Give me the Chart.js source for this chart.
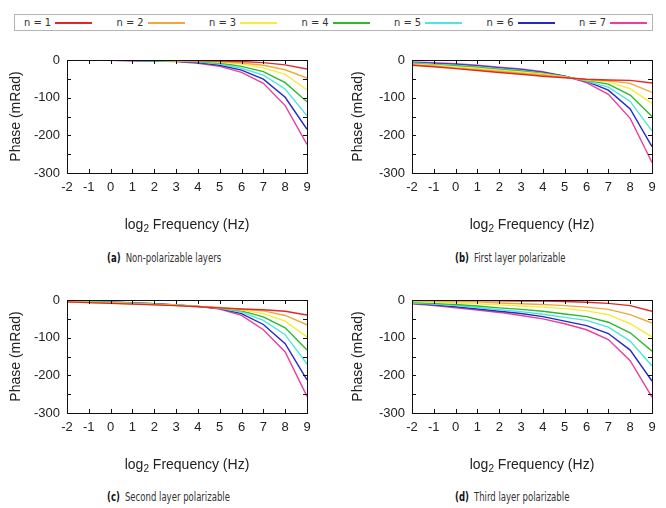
<!DOCTYPE html>
<html>
<head>
<meta charset="utf-8">
<script src="https://cdn.jsdelivr.net/npm/chart.js@4.4.0/dist/chart.umd.min.js"></script>
<style>
  body { margin: 0; background: #fff; width: 666px; height: 508px; position: relative; overflow: hidden; }
  canvas { position: absolute; }
  #legend { position: absolute; left: 14px; top: 14px; width: 637px; height: 15px; border: 1px solid #b4b4b4; }
  .item { position: absolute; top: 0; height: 15px; display: flex; align-items: center;
          font: 11px "Liberation Sans Narrow", "DejaVu Sans Condensed", sans-serif; color: #333; white-space: nowrap; }
  .swatch { width: 37px; height: 2px; margin-left: 4px; }
  .caption { position: absolute; font: 12px "Liberation Sans Narrow", "DejaVu Sans Condensed", sans-serif; color: #333;
             white-space: nowrap; transform: scaleX(0.79); transform-origin: left center; }
  .caption b { color: #111; margin-right: 3px; }
</style>
</head>
<body>
<div id="legend"></div>
<canvas id="chartA" width="333" height="200" style="left:0px;top:40px"></canvas>
<canvas id="chartB" width="324" height="200" style="left:342px;top:40px"></canvas>
<canvas id="chartC" width="333" height="200" style="left:0px;top:280px"></canvas>
<canvas id="chartD" width="324" height="200" style="left:342px;top:280px"></canvas>
<div class="caption" style="left:107px;top:251px"><b>(a)</b> Non-polarizable layers</div>
<div class="caption" style="left:455px;top:251px"><b>(b)</b> First layer polarizable</div>
<div class="caption" style="left:107px;top:490px"><b>(c)</b> Second layer polarizable</div>
<div class="caption" style="left:455px;top:490px"><b>(d)</b> Third layer polarizable</div>
<script>
// x values: log2 of frequency
const freqLog2 = [-2, -1, 0, 1, 2, 3, 4, 5, 6, 7, 8, 9];
const seriesNames = ['n = 1', 'n = 2', 'n = 3', 'n = 4', 'n = 5', 'n = 6', 'n = 7'];
const colors = ['#e02828', '#f0a83c', '#f2ee3a', '#2eb82e', '#4ee6dc', '#2428c4', '#e8409c'];
const yTicks = [0, -100, -200, -300];

// phase (mRad), one row per n
const phaseNonPolar = [
    [0, 0, 0, 0, -0.5, -1, -1.5, -2.5, -4, -7, -13, -24],
    [0, 0, 0, -0.5, -1, -1.5, -2.5, -4, -8, -14, -26, -48],
    [0, 0, -0.5, -0.5, -1, -2, -3, -6, -11, -21, -38, -79],
    [0, -0.5, -0.5, -1, -1.5, -2.5, -4, -8, -17, -31, -60, -111],
    [-0.5, -0.5, -1, -1, -2, -3, -5, -11, -22, -40, -77, -148],
    [-0.5, -0.5, -1, -1.5, -2, -3.5, -7, -14, -27, -51, -99, -184],
    [-0.5, -1, -1, -2, -2.5, -4, -9, -17, -33, -62, -121, -224]
];
const phaseFirst = [
    [-14, -18, -23, -28, -33, -38, -43, -47, -51, -53, -54, -61],
    [-13, -16, -21, -25, -30, -35, -40, -46, -52, -55, -62, -86],
    [-11, -14, -18, -22, -27, -32, -37, -45, -53, -58, -76, -115],
    [-10, -13, -16, -20, -25, -30, -36, -44, -54, -64, -93, -150],
    [-8, -11, -14, -18, -23, -28, -35, -44, -56, -72, -110, -188],
    [-7, -9, -12, -16, -21, -26, -33, -43, -57, -80, -130, -230],
    [-5, -7, -10, -14, -19, -24, -31, -43, -60, -91, -155, -272]
];
const phaseSecond = [
    [-5, -7, -9, -11, -13, -15, -18, -21, -24, -26, -30, -40],
    [-5, -7, -8, -10, -12, -15, -17, -20, -25, -29, -41, -66],
    [-4, -6, -8, -10, -12, -14, -17, -21, -27, -36, -56, -98],
    [-4, -5, -7, -9, -11, -14, -17, -21, -29, -45, -74, -133],
    [-3, -4, -6, -8, -11, -13, -17, -22, -32, -54, -92, -170],
    [-2, -4, -6, -8, -10, -13, -17, -23, -36, -65, -116, -212],
    [-2, -3, -5, -7, -10, -13, -17, -24, -41, -79, -138, -256]
];
const phaseThird = [
    [0, -0.5, -1, -1.5, -2, -2.5, -3, -4, -6, -9, -15, -30],
    [-2, -3, -4, -5, -8, -10, -12, -15, -19, -25, -39, -61],
    [-4, -6, -8, -10, -13, -16, -19, -23, -29, -39, -63, -98],
    [-6, -9, -12, -16, -21, -25, -30, -37, -44, -59, -87, -136],
    [-8, -11, -15, -20, -26, -31, -38, -46, -54, -72, -109, -175],
    [-9, -13, -18, -24, -30, -36, -44, -56, -68, -89, -133, -215],
    [-10, -15, -21, -27, -33, -41, -50, -63, -79, -105, -161, -258]
];

// legend
const legend = document.getElementById('legend');
seriesNames.forEach((name, i) => {
    const item = document.createElement('div');
    item.className = 'item';
    item.style.left = (9 + i * 92.5) + 'px';
    item.innerHTML = '<span>' + name + '</span><span class="swatch" style="background:' + colors[i] + '"></span>';
    legend.appendChild(item);
});

const textColor = '#222';

// gnuplot-like frame: box, inward ticks on all sides, subscripted x title
const framePlugin = {
    id: 'frame',
    afterDraw(chart) {
        const { ctx, chartArea: a, scales: { x, y } } = chart;
        ctx.save();
        ctx.strokeStyle = '#111';
        ctx.lineWidth = 1;
        ctx.beginPath();
        x.ticks.forEach(t => {
            const px = Math.round(x.getPixelForValue(t.value)) + 0.5;
            ctx.moveTo(px, a.bottom); ctx.lineTo(px, a.bottom - 4);
            ctx.moveTo(px, a.top); ctx.lineTo(px, a.top + 4);
        });
        y.ticks.forEach(t => {
            const py = Math.round(y.getPixelForValue(t.value)) + 0.5;
            ctx.moveTo(a.left, py); ctx.lineTo(a.left + 4, py);
            ctx.moveTo(a.right, py); ctx.lineTo(a.right - 4, py);
        });
        ctx.stroke();
        ctx.strokeRect(Math.round(a.left) + 0.5, Math.round(a.top) + 0.5,
            Math.round(a.right - a.left), Math.round(a.bottom - a.top));

        // x title: log2 Frequency (Hz)
        const big = '14px "Liberation Sans", Arial, sans-serif';
        const small = '10px "Liberation Sans", Arial, sans-serif';
        ctx.fillStyle = textColor;
        ctx.textBaseline = 'alphabetic';
        ctx.textAlign = 'left';
        ctx.font = big;
        const w1 = ctx.measureText('log').width;
        const w3 = ctx.measureText(' Frequency (Hz)').width;
        ctx.font = small;
        const w2 = ctx.measureText('2').width;
        const cx = (a.left + a.right) / 2;
        const base = a.bottom + 56;
        let sx = cx - (w1 + w2 + w3) / 2;
        ctx.font = big;
        ctx.fillText('log', sx, base);
        ctx.font = small;
        ctx.fillText('2', sx + w1, base + 3);
        ctx.font = big;
        ctx.fillText(' Frequency (Hz)', sx + w1 + w2, base);
        ctx.restore();
    }
};

function makePanel(id, rows, axisWidth, padRight) {
    new Chart(document.getElementById(id), {
        type: 'line',
        data: {
            datasets: rows.map((row, i) => ({
                label: seriesNames[i],
                data: row.map((v, j) => ({ x: freqLog2[j], y: v })),
                borderColor: colors[i],
                borderWidth: 1.4,
                pointRadius: 0,
                tension: 0,
                fill: false
            }))
        },
        options: {
            responsive: false,
            animation: false,
            events: [],
            layout: { padding: { left: 0, right: padRight, top: 20, bottom: 0 } },
            plugins: { legend: { display: false }, tooltip: { enabled: false } },
            scales: {
                x: {
                    type: 'linear',
                    min: -2,
                    max: 9,
                    grid: { display: false, drawTicks: false },
                    border: { display: false },
                    ticks: {
                        stepSize: 1,
                        autoSkip: false,
                        maxRotation: 0,
                        padding: 7,
                        color: textColor,
                        font: { family: '"Liberation Sans", Arial, sans-serif', size: 13 }
                    },
                    afterFit(scale) { scale.height = 67; }
                },
                y: {
                    min: -300,
                    max: 0,
                    grid: { display: false, drawTicks: false },
                    border: { display: false },
                    ticks: {
                        stepSize: 50,
                        padding: 7,
                        color: textColor,
                        font: { family: '"Liberation Sans", Arial, sans-serif', size: 13 },
                        callback: v => yTicks.includes(v) ? String(v) : ''
                    },
                    title: {
                        display: true,
                        text: 'Phase (mRad)',
                        color: textColor,
                        padding: { top: 8, bottom: 0 },
                        font: { family: '"Liberation Sans", Arial, sans-serif', size: 14 }
                    },
                    afterFit(scale) { scale.width = axisWidth; }
                }
            }
        },
        plugins: [framePlugin]
    });
}

makePanel('chartA', phaseNonPolar, 67, 26);
makePanel('chartB', phaseFirst, 70, 14);
makePanel('chartC', phaseSecond, 67, 26);
makePanel('chartD', phaseThird, 70, 14);
</script>
</body>
</html>
